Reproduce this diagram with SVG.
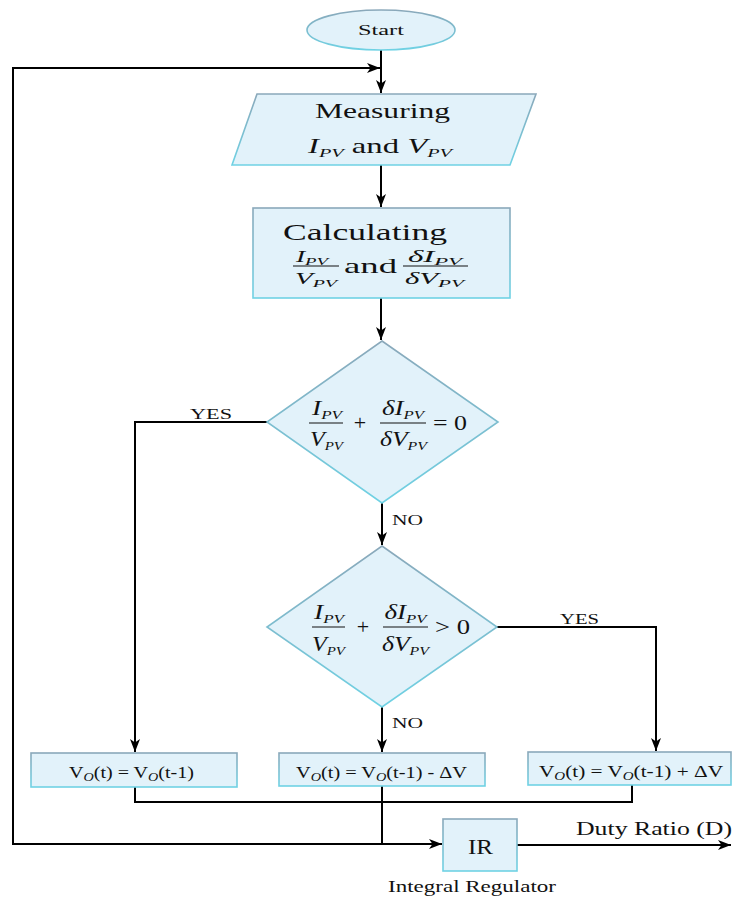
<svg xmlns="http://www.w3.org/2000/svg" width="735" height="899" viewBox="0 0 735 899">
  <style>
    .t { font-family: "Liberation Serif", "Times New Roman", serif; fill: #111; }
    .i { font-style: italic; }
    .shape { fill: #e2f2fa; stroke: url(#edge); stroke-width: 1.6; }
    .wire { fill: none; stroke: #000; stroke-width: 2; }
    .bar { stroke: #111; stroke-width: 1.2; }
  </style>
  <defs>
    <linearGradient id="edge" x1="0" y1="0" x2="0" y2="1">
      <stop offset="0" stop-color="#8aa8ba"/>
      <stop offset="1" stop-color="#6fd2e4"/>
    </linearGradient>
    <marker id="arr" markerUnits="userSpaceOnUse" markerWidth="14" markerHeight="10" refX="13" refY="5" orient="auto">
      <path d="M0,0 L13,5 L0,10 L3.5,5 Z" fill="#000"/>
    </marker>
  </defs>

  <!-- connectors -->
  <g id="connectors">
    <path class="wire" d="M381,50 V93" marker-end="url(#arr)"/>
    <path class="wire" d="M383,844 H13 V68 H380" marker-end="url(#arr)"/>
    <path class="wire" d="M381,165 V207" marker-end="url(#arr)"/>
    <path class="wire" d="M381,298 V340" marker-end="url(#arr)"/>
    <path class="wire" d="M267,422 H135 V752" marker-end="url(#arr)"/>
    <path class="wire" d="M382,503 V545" marker-end="url(#arr)"/>
    <path class="wire" d="M497,627 H656 V751" marker-end="url(#arr)"/>
    <path class="wire" d="M382,707 V752" marker-end="url(#arr)"/>
    <path class="wire" d="M135,787 V802 H632 V785"/>
    <path class="wire" d="M382,786 V844"/>
    <path class="wire" d="M383,844 H442" marker-end="url(#arr)"/>
    <path class="wire" d="M517,845 H731" marker-end="url(#arr)"/>
  </g>

  <!-- start terminal -->
  <g id="start">
    <ellipse class="shape" cx="381" cy="30" rx="74" ry="20"/>
    <text class="t" x="358" y="35" font-size="15" textLength="46" lengthAdjust="spacingAndGlyphs">Start</text>
  </g>

  <!-- input step -->
  <g id="measure">
    <polygon class="shape" points="257,94 536,94 510,165 232,165"/>
    <text class="t" x="315" y="118" font-size="21" textLength="135" lengthAdjust="spacingAndGlyphs">Measuring</text>
    <text class="t" x="308" y="153" font-size="21" textLength="144" lengthAdjust="spacingAndGlyphs"><tspan class="i">I</tspan><tspan class="i" font-size="13" dy="4">PV</tspan><tspan dy="-4"> and </tspan><tspan class="i">V</tspan><tspan class="i" font-size="13" dy="4">PV</tspan></text>
  </g>

  <!-- process step -->
  <g id="calculate">
    <rect class="shape" x="253" y="208" width="257" height="90"/>
    <text class="t" x="283" y="240" font-size="23" textLength="164" lengthAdjust="spacingAndGlyphs">Calculating</text>
    <line class="bar" x1="293" y1="266" x2="339" y2="266"/>
    <text class="t i" x="312" y="262" font-size="16" text-anchor="middle" textLength="32" lengthAdjust="spacingAndGlyphs">I<tspan font-size="11" dy="3">PV</tspan></text>
    <text class="t i" x="316" y="284" font-size="16" text-anchor="middle" textLength="42" lengthAdjust="spacingAndGlyphs">V<tspan font-size="11" dy="3">PV</tspan></text>
    <text class="t" x="344" y="273" font-size="22" textLength="53" lengthAdjust="spacingAndGlyphs">and</text>
    <line class="bar" x1="403" y1="266" x2="468" y2="266"/>
    <text class="t i" x="435" y="262" font-size="16" text-anchor="middle" textLength="54" lengthAdjust="spacingAndGlyphs">δI<tspan font-size="11" dy="3">PV</tspan></text>
    <text class="t i" x="434.5" y="284" font-size="16" text-anchor="middle" textLength="59" lengthAdjust="spacingAndGlyphs">δV<tspan font-size="11" dy="3">PV</tspan></text>
  </g>

  <!-- decision: equal to zero -->
  <g id="check-zero">
    <polygon class="shape" points="382,341 498,422 382,503 267,422"/>
    <line class="bar" x1="309" y1="423" x2="343" y2="423"/>
    <text class="t i" x="327" y="415" font-size="21" text-anchor="middle" textLength="30" lengthAdjust="spacingAndGlyphs">I<tspan font-size="13" dy="4">PV</tspan></text>
    <text class="t i" x="326.5" y="446" font-size="21" text-anchor="middle" textLength="33" lengthAdjust="spacingAndGlyphs">V<tspan font-size="13" dy="4">PV</tspan></text>
    <text class="t" x="360" y="430" font-size="22" text-anchor="middle">+</text>
    <line class="bar" x1="380" y1="423" x2="426" y2="423"/>
    <text class="t i" x="403" y="415" font-size="21" text-anchor="middle" textLength="42" lengthAdjust="spacingAndGlyphs">δI<tspan font-size="13" dy="4">PV</tspan></text>
    <text class="t i" x="403.5" y="446" font-size="21" text-anchor="middle" textLength="47" lengthAdjust="spacingAndGlyphs">δV<tspan font-size="13" dy="4">PV</tspan></text>
    <text class="t" x="433" y="430" font-size="22" textLength="34" lengthAdjust="spacingAndGlyphs">= 0</text>
  </g>

  <!-- decision: greater than zero -->
  <g id="check-positive">
    <polygon class="shape" points="382,546 497,627 382,707 267,627"/>
    <line class="bar" x1="312" y1="627" x2="345" y2="627"/>
    <text class="t i" x="329" y="619" font-size="21" text-anchor="middle" textLength="30" lengthAdjust="spacingAndGlyphs">I<tspan font-size="13" dy="4">PV</tspan></text>
    <text class="t i" x="328.5" y="651" font-size="21" text-anchor="middle" textLength="33" lengthAdjust="spacingAndGlyphs">V<tspan font-size="13" dy="4">PV</tspan></text>
    <text class="t" x="363" y="634" font-size="22" text-anchor="middle">+</text>
    <line class="bar" x1="383" y1="627" x2="428" y2="627"/>
    <text class="t i" x="405.5" y="619" font-size="21" text-anchor="middle" textLength="42" lengthAdjust="spacingAndGlyphs">δI<tspan font-size="13" dy="4">PV</tspan></text>
    <text class="t i" x="405.5" y="651" font-size="21" text-anchor="middle" textLength="47" lengthAdjust="spacingAndGlyphs">δV<tspan font-size="13" dy="4">PV</tspan></text>
    <text class="t" x="435" y="634" font-size="22" textLength="35" lengthAdjust="spacingAndGlyphs">&gt; 0</text>
  </g>

  <!-- branch labels -->
  <g id="labels">
    <text class="t" x="190" y="419" font-size="14" textLength="42" lengthAdjust="spacingAndGlyphs">YES</text>
    <text class="t" x="392" y="525" font-size="14" textLength="31" lengthAdjust="spacingAndGlyphs">NO</text>
    <text class="t" x="560" y="624" font-size="14" textLength="39" lengthAdjust="spacingAndGlyphs">YES</text>
    <text class="t" x="392" y="728" font-size="14" textLength="31" lengthAdjust="spacingAndGlyphs">NO</text>
  </g>

  <!-- output updates -->
  <g id="hold">
    <rect class="shape" x="31" y="753" width="206" height="34"/>
    <text class="t" x="69" y="778" font-size="17" textLength="125" lengthAdjust="spacingAndGlyphs">V<tspan class="i" font-size="12" dy="3">O</tspan><tspan dy="-3">(t) = V</tspan><tspan class="i" font-size="12" dy="3">O</tspan><tspan dy="-3">(t-1)</tspan></text>
  </g>
  <g id="decrease">
    <rect class="shape" x="279" y="753" width="206" height="33"/>
    <text class="t" x="296" y="778" font-size="17" textLength="171" lengthAdjust="spacingAndGlyphs">V<tspan class="i" font-size="12" dy="3">O</tspan><tspan dy="-3">(t) = V</tspan><tspan class="i" font-size="12" dy="3">O</tspan><tspan dy="-3">(t-1) - ΔV</tspan></text>
  </g>
  <g id="increase">
    <rect class="shape" x="528" y="752" width="203" height="33"/>
    <text class="t" x="539" y="777" font-size="17" textLength="184" lengthAdjust="spacingAndGlyphs">V<tspan class="i" font-size="12" dy="3">O</tspan><tspan dy="-3">(t) = V</tspan><tspan class="i" font-size="12" dy="3">O</tspan><tspan dy="-3">(t-1) + ΔV</tspan></text>
  </g>

  <!-- integral regulator -->
  <g id="regulator">
    <rect class="shape" x="443" y="819" width="74" height="52"/>
    <text class="t" x="468" y="854" font-size="21" textLength="25" lengthAdjust="spacingAndGlyphs">IR</text>
    <text class="t" x="388" y="892" font-size="17" textLength="168" lengthAdjust="spacingAndGlyphs">Integral Regulator</text>
  </g>
  <g id="output">
    <text class="t" x="576" y="835" font-size="18" textLength="156" lengthAdjust="spacingAndGlyphs">Duty Ratio (D)</text>
  </g>
</svg>
